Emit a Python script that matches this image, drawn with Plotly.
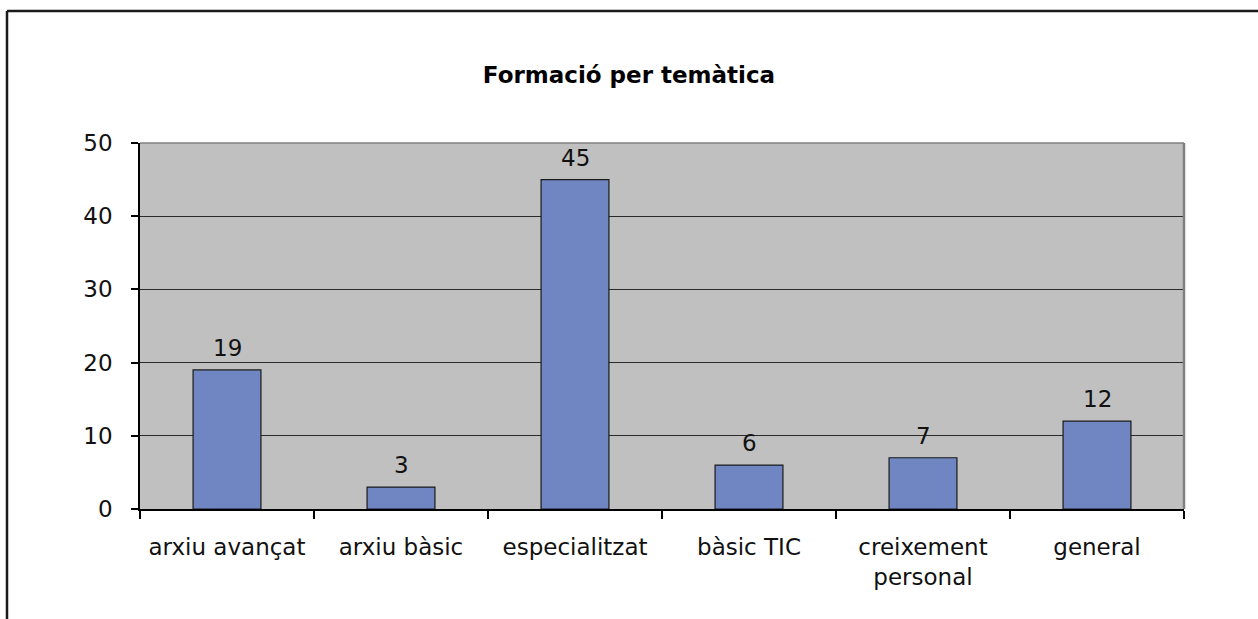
import plotly.graph_objects as go

# Dades del gràfic
categories = ["arxiu avançat", "arxiu bàsic", "especialitzat", "bàsic TIC",
              "creixement<br>personal", "general"]
values = [19, 3, 45, 6, 7, 12]
y_ticks = [0, 10, 20, 30, 40, 50]

FONT = "DejaVu Sans"
BAR_COLOR = "#7086C2"
PLOT_BG = "#C0C0C0"
W, H = 1258, 619
FS = 23

fig = go.Figure()
fig.add_trace(go.Bar(
    x=categories,
    y=values,
    marker=dict(color=BAR_COLOR, line=dict(color="#1a1a1a", width=1.2)),
    width=0.39,
    hoverinfo="x+y",
))

# Etiquetes de valor sobre cada barra
for cat, v in zip(categories, values):
    fig.add_annotation(
        x=cat, y=v, text=str(v), showarrow=False,
        yanchor="bottom", yshift=7,
        font=dict(family=FONT, size=FS, color="#111111"),
    )

fig.update_layout(
    width=W, height=H,
    margin=dict(l=140, r=74, t=143, b=110),
    paper_bgcolor="white",
    plot_bgcolor=PLOT_BG,
    showlegend=False,
    title=dict(
        text="<b>Formació per temàtica</b>",
        x=0.5, xanchor="center", xref="container",
        y=1 - 75 / H, yref="container", yanchor="middle",
        font=dict(family=FONT, size=23, color="#000000"),
    ),
    font=dict(family=FONT, size=FS, color="#111111"),
    xaxis=dict(
        type="category",
        showgrid=False,
        showline=True, linecolor="#000000", linewidth=1.5,
        ticks="outside", tickson="boundaries", ticklen=8,
        tickcolor="#000000", tickwidth=1.5,
        ticklabelstandoff=17,
        tickfont=dict(family=FONT, size=FS, color="#111111"),
        range=[-0.5, 5.5],
    ),
    yaxis=dict(
        range=[0, 50],
        tickvals=y_ticks,
        showgrid=True, gridcolor="#2a2a2a", gridwidth=1,
        showline=True, linecolor="#000000", linewidth=1.5,
        ticks="outside", ticklen=7, tickcolor="#000000", tickwidth=1.5,
        ticklabelstandoff=14,
        tickfont=dict(family=FONT, size=FS, color="#111111"),
        zeroline=False,
    ),
    shapes=[
        # vora grisa superior i dreta de l'àrea de dibuix
        dict(type="line", xref="paper", yref="paper", x0=0, x1=1, y0=1, y1=1,
             line=dict(color="#808080", width=1.5), layer="above"),
        dict(type="line", xref="paper", yref="paper", x0=1, x1=1, y0=0, y1=1,
             line=dict(color="#808080", width=2.5), layer="above"),
        # marc exterior del gràfic
        dict(type="line", xref="paper", yref="paper",
             x0=-133 / 1044, x1=-133 / 1044, y0=-110 / 366 - 0.05, y1=132 / 366 + 1,
             line=dict(color="#1a1a1a", width=2.5), layer="above"),
        dict(type="line", xref="paper", yref="paper",
             x0=-133 / 1044, x1=1.1, y0=132 / 366 + 1, y1=132 / 366 + 1,
             line=dict(color="#1a1a1a", width=2.5), layer="above"),
    ],
)

fig.write_html("out.html")
